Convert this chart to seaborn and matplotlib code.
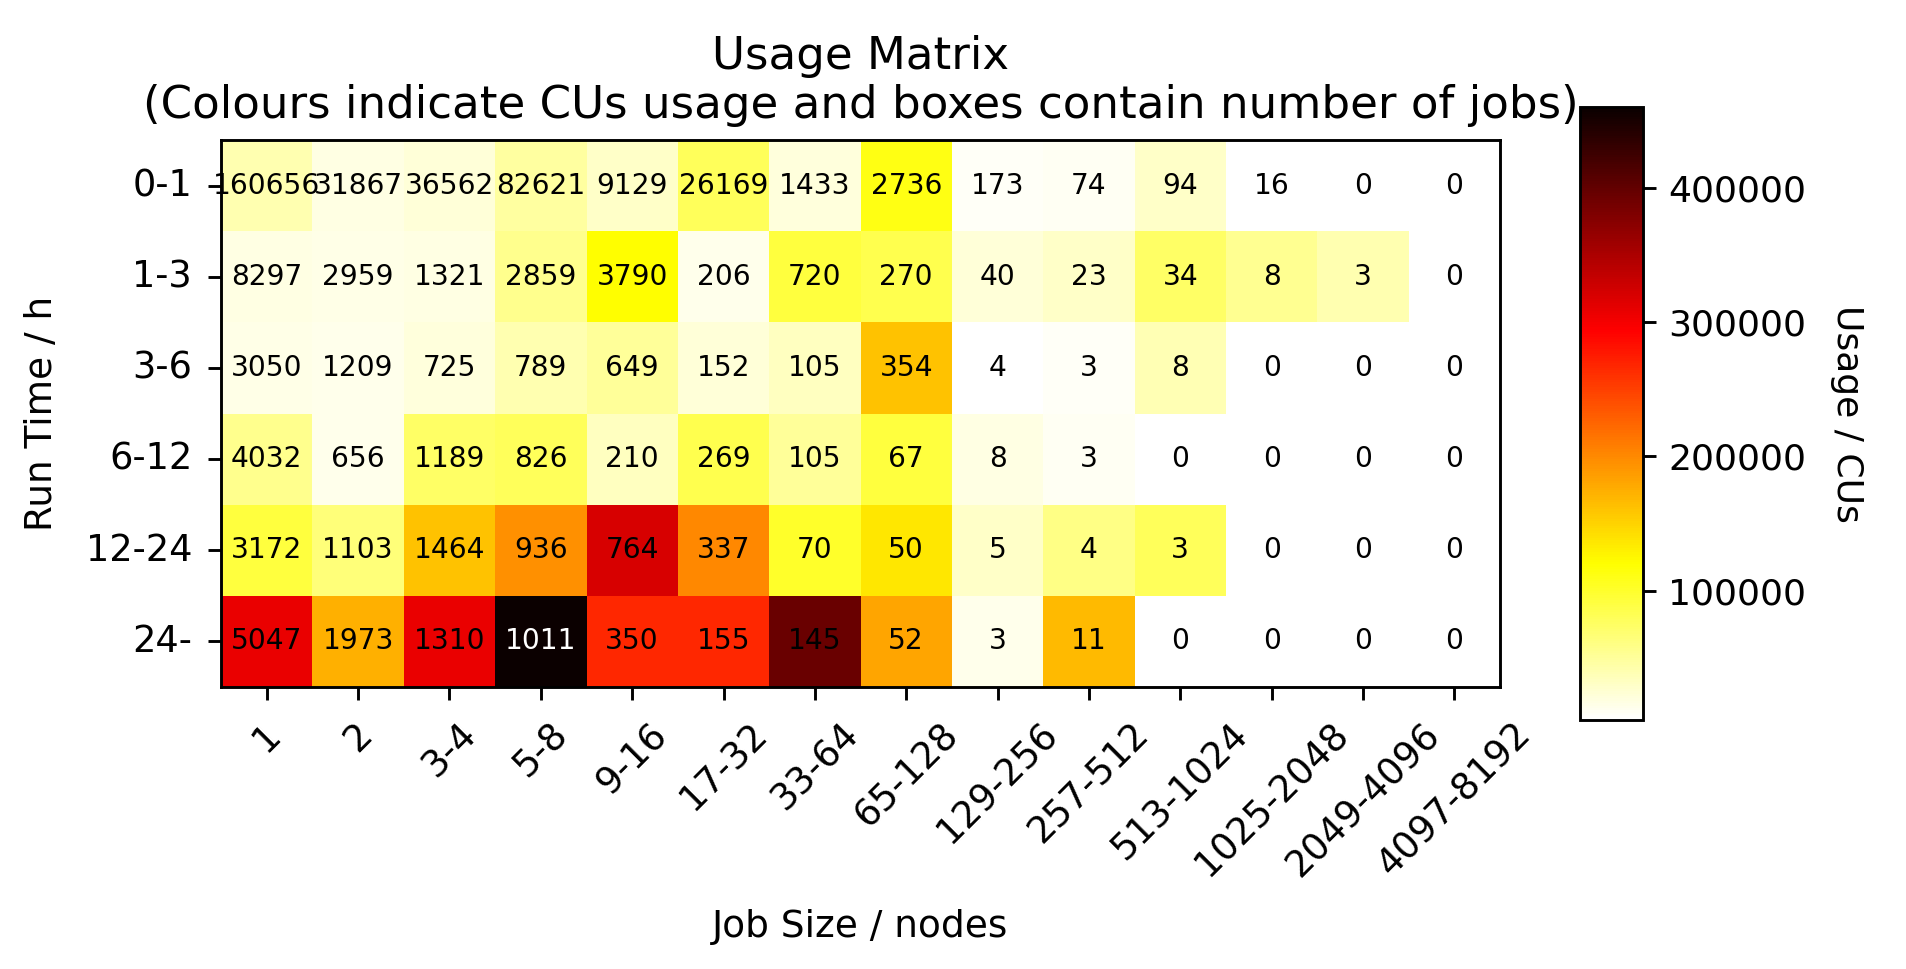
import numpy as np
import pandas as pd
import matplotlib
matplotlib.use("Agg")
import matplotlib.pyplot as plt
import seaborn as sns

run_times = ["0-1", "1-3", "3-6", "6-12", "12-24", "24-"]
job_sizes = ["1", "2", "3-4", "5-8", "9-16", "17-32", "33-64", "65-128",
             "129-256", "257-512", "513-1024", "1025-2048", "2049-4096", "4097-8192"]

# number of jobs per box (row = run time)
jobs_0_1 = [160656, 31867, 36562, 82621, 9129, 26169, 1433, 2736, 173, 74, 94, 16, 0, 0]
jobs_1_3 = [8297, 2959, 1321, 2859, 3790, 206, 720, 270, 40, 23, 34, 8, 3, 0]
jobs_3_6 = [3050, 1209, 725, 789, 649, 152, 105, 354, 4, 3, 8, 0, 0, 0]
jobs_6_12 = [4032, 656, 1189, 826, 210, 269, 105, 67, 8, 3, 0, 0, 0, 0]
jobs_12_24 = [3172, 1103, 1464, 936, 764, 337, 70, 50, 5, 4, 3, 0, 0, 0]
jobs_24 = [5047, 1973, 1310, 1011, 350, 155, 145, 52, 3, 11, 0, 0, 0, 0]

# usage in CUs
usage_0_1 = [40000, 18000, 23000, 47000, 30000, 80000, 20000, 111000, 8000, 10000, 30000, 4500, 0, 0]
usage_1_3 = [18000, 15000, 18000, 56000, 120000, 13000, 92000, 85000, 23000, 30000, 75000, 54000, 40000, 0]
usage_3_6 = [15000, 13000, 20000, 40000, 51000, 23000, 34000, 162000, 3900, 8000, 38000, 0, 0, 0]
usage_6_12 = [56000, 13000, 75000, 80000, 34000, 85000, 51000, 92000, 18000, 10000, 0, 0, 0, 0]
usage_12_24 = [92000, 65000, 162000, 195000, 320000, 200000, 101000, 137000, 30000, 60000, 80000, 0, 0, 0]
usage_24 = [307000, 174000, 307000, 460000, 266000, 266000, 395000, 181000, 13000, 167000, 0, 0, 0, 0]

jobs = pd.DataFrame([jobs_0_1, jobs_1_3, jobs_3_6, jobs_6_12, jobs_12_24, jobs_24],
                    index=run_times, columns=job_sizes)
usage = pd.DataFrame([usage_0_1, usage_1_3, usage_3_6, usage_6_12, usage_12_24, usage_24],
                     index=run_times, columns=job_sizes)

fig = plt.figure(figsize=(1906 / 260, 969 / 260), dpi=260)
ax = fig.add_axes([0.116, 0.291, 0.671, 0.5645])
cax = fig.add_axes([0.829, 0.257, 0.0331, 0.6326])

sns.heatmap(usage, mask=(jobs == 0), cmap="hot_r", ax=ax, cbar_ax=cax,
            xticklabels=job_sizes, yticklabels=run_times,
            cbar_kws={"ticks": [100000, 200000, 300000, 400000], "format": "%d"})

# boxes contain number of jobs
vmax = usage.values.max()
for i, rt in enumerate(run_times):
    for j, js in enumerate(job_sizes):
        col = "white" if usage.loc[rt, js] > 0.95 * vmax else "black"
        ax.text(j + 0.5, i + 0.5, str(jobs.loc[rt, js]), ha="center", va="center",
                fontsize=7.8, color=col)

for s in ax.spines.values():
    s.set_visible(True)
    s.set_linewidth(0.8)
ax.tick_params(axis="both", length=3.5, width=0.8, labelsize=10.2, pad=4.5)
ax.set_xticklabels(job_sizes, rotation=45, ha="center")
ax.set_yticklabels(run_times, rotation=0)
ax.set_xlabel("Job Size / nodes", fontsize=10.4, labelpad=7)
ax.set_ylabel("Run Time / h", fontsize=10.4, labelpad=7)
ax.set_title("Usage Matrix\n(Colours indicate CUs usage and boxes contain number of jobs)",
             fontsize=12.5)

cbar = ax.collections[0].colorbar
cbar.outline.set_visible(True)
cbar.outline.set_linewidth(0.8)
cbar.ax.tick_params(labelsize=10, length=3.5, width=0.8)
cbar.set_label("Usage / CUs", rotation=270, labelpad=16, fontsize=10)

fig.savefig("out.png", dpi=260)
